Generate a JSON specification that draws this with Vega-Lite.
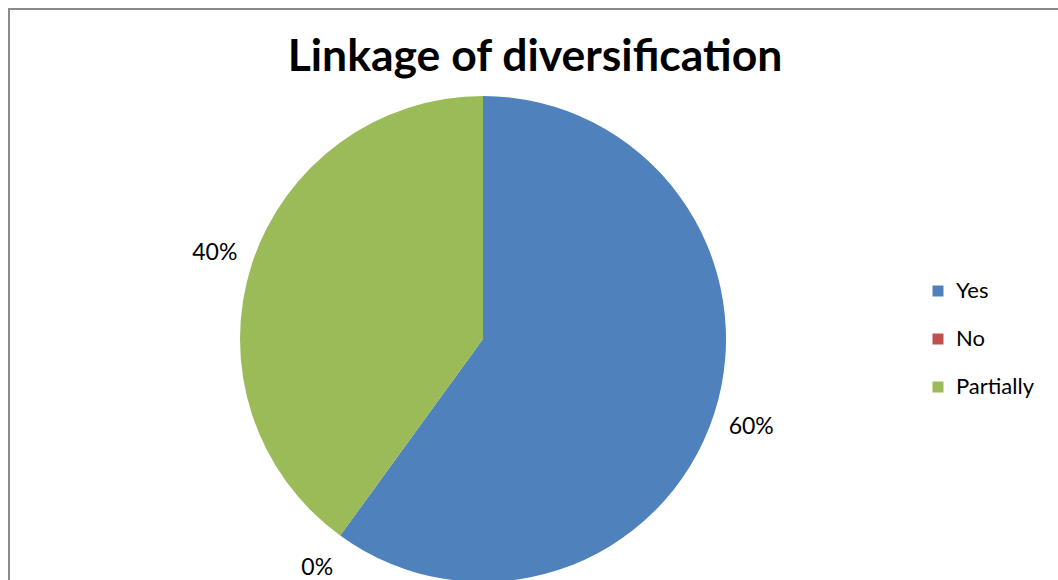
{
  "$schema": "https://vega.github.io/schema/vega-lite/v6.json",
  "width": 1058,
  "height": 580,
  "autosize": {"type": "none"},
  "padding": {"left": 9, "top": 9, "right": 0, "bottom": 0},
  "background": "white",
  "view": {"stroke": "#8a8a8a", "strokeWidth": 2},
  "title": {
    "text": "Linkage of diversification",
    "font": "Lato",
    "fontSize": 44.5,
    "fontWeight": "bold",
    "color": "#000000",
    "anchor": "middle",
    "dx": -3,
    "dy": 75
  },
  "data": {
    "values": [
      {"category": "Yes", "value": 60, "order": 1, "label": "60%"},
      {"category": "No", "value": 0, "order": 2, "label": "0%"},
      {"category": "Partially", "value": 40, "order": 3, "label": "40%"}
    ]
  },
  "encoding": {
    "theta": {"field": "value", "type": "quantitative", "stack": true},
    "order": {"field": "order", "type": "quantitative"}
  },
  "layer": [
    {
      "mark": {"type": "arc", "outerRadius": 243, "xOffset": -55, "yOffset": 40},
      "encoding": {
        "color": {
          "field": "category",
          "type": "nominal",
          "scale": {"domain": ["Yes", "No", "Partially"], "range": ["#4f81bd", "#c0504d", "#9bbb59"]},
          "sort": ["Yes", "No", "Partially"],
          "legend": {
            "title": null,
            "orient": "none",
            "legendX": 918,
            "legendY": 271,
            "symbolType": "square",
            "symbolSize": 121,
            "symbolStrokeWidth": 0,
            "labelFont": "Lato",
            "labelFontSize": 22,
            "labelColor": "#000000",
            "labelOffset": 7,
            "rowPadding": 26
          }
        }
      }
    },
    {
      "mark": {"type": "text", "radius": 282, "xOffset": -55, "yOffset": 41, "font": "Lato", "fontSize": 23, "color": "#000000"},
      "encoding": {
        "text": {"field": "label", "type": "nominal"}
      }
    }
  ]
}
